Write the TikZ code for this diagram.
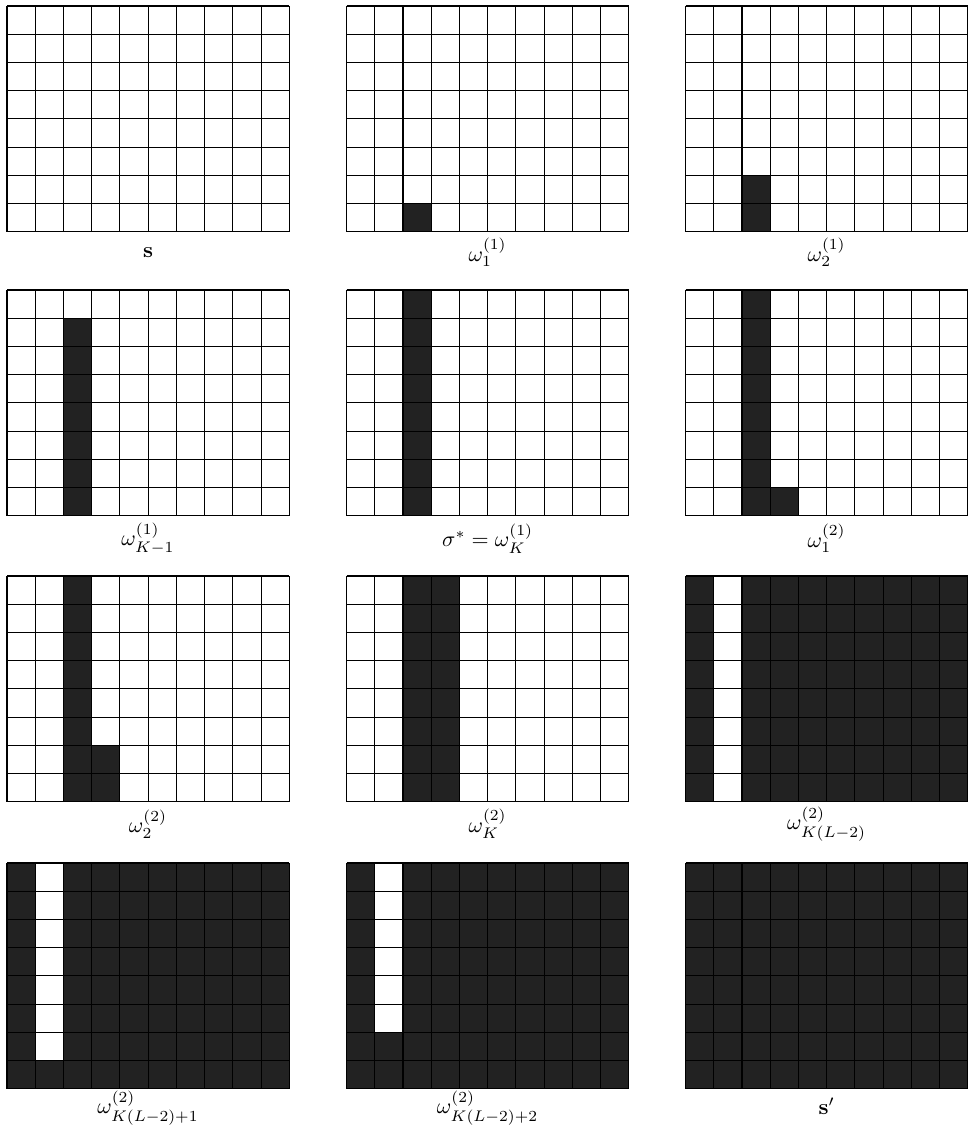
\documentclass[tikz,border=0pt]{standalone}
\usepackage{amsmath,amssymb}
\definecolor{cellfill}{HTML}{222222}
\tikzset{
  gridline/.style={draw=black,line width=1.1pt},
  filled/.style={fill=cellfill},
  lab/.style={scale=2.2,anchor=center,inner sep=0pt}
}
\newcommand\cellsz{28.23}
% \blk{ox}{oy}{c1}{c2}{r1}{r2}
\newcommand\blk[6]{\fill[filled] ({#1+(#3-1)*\cellsz},{#2+(#5-1)*\cellsz}) rectangle ({#1+#4*\cellsz},{#2+#6*\cellsz});}
\newcommand\gridlines[2]{%
  \foreach \i in {0,...,10} {\draw[gridline] ({#1+\i*\cellsz},#2) -- ({#1+\i*\cellsz},{#2+8*\cellsz});}
  \foreach \j in {0,...,8} {\draw[gridline] (#1,{#2+\j*\cellsz}) -- ({#1+10*\cellsz},{#2+\j*\cellsz});}
}
\begin{document}
\begin{tikzpicture}[x=1pt,y=-1pt]
\useasboundingbox (0,0) rectangle (968,1130);
% column lefts: 7, 346.5, 685.5 ; row tops: 6, 290, 576, 863
% Row 1
\gridlines{7}{6}
\blk{346.5}{6}{3}{3}{8}{8}
\gridlines{346.5}{6}
\blk{685.5}{6}{3}{3}{7}{8}
\gridlines{685.5}{6}
\node[lab] (l1) at (148,252.5) {$\mathbf{s}$};
\node[lab] (l2) at (487.6,252.5) {$\omega_1^{(1)}$};
\node[lab] (l3) at (826.6,252.5) {$\omega_2^{(1)}$};
% Row 2
\blk{7}{290}{3}{3}{2}{8}
\gridlines{7}{290}
\blk{346.5}{290}{3}{3}{1}{8}
\gridlines{346.5}{290}
\blk{685.5}{290}{3}{3}{1}{8}
\blk{685.5}{290}{4}{4}{8}{8}
\gridlines{685.5}{290}
\node[lab] (l4) at (148,538.5) {$\omega_{K-1}^{(1)}$};
\node[lab] (l5) at (487.6,538.5) {$\sigma^* = \omega_K^{(1)}$};
\node[lab] (l6) at (826.6,538.5) {$\omega_1^{(2)}$};
% Row 3
\blk{7}{576}{3}{3}{1}{8}
\blk{7}{576}{4}{4}{7}{8}
\gridlines{7}{576}
\blk{346.5}{576}{3}{4}{1}{8}
\gridlines{346.5}{576}
\blk{685.5}{576}{1}{1}{1}{8}
\blk{685.5}{576}{3}{10}{1}{8}
\gridlines{685.5}{576}
\node[lab] (l7) at (148,824) {$\omega_2^{(2)}$};
\node[lab] (l8) at (487.6,824) {$\omega_K^{(2)}$};
\node[lab] (l9) at (826.6,824) {$\omega_{K(L-2)}^{(2)}$};
% Row 4
\blk{7}{863}{1}{1}{1}{8}
\blk{7}{863}{3}{10}{1}{8}
\blk{7}{863}{2}{2}{8}{8}
\gridlines{7}{863}
\blk{346.5}{863}{1}{1}{1}{8}
\blk{346.5}{863}{3}{10}{1}{8}
\blk{346.5}{863}{2}{2}{7}{8}
\gridlines{346.5}{863}
\blk{685.5}{863}{1}{10}{1}{8}
\gridlines{685.5}{863}
\node[lab] (l10) at (148,1108) {$\omega_{K(L-2)+1}^{(2)}$};
\node[lab] (l11) at (487.6,1108) {$\omega_{K(L-2)+2}^{(2)}$};
\node[lab] (l12) at (826.6,1106) {$\mathbf{s}'$};
\end{tikzpicture}
\end{document}
